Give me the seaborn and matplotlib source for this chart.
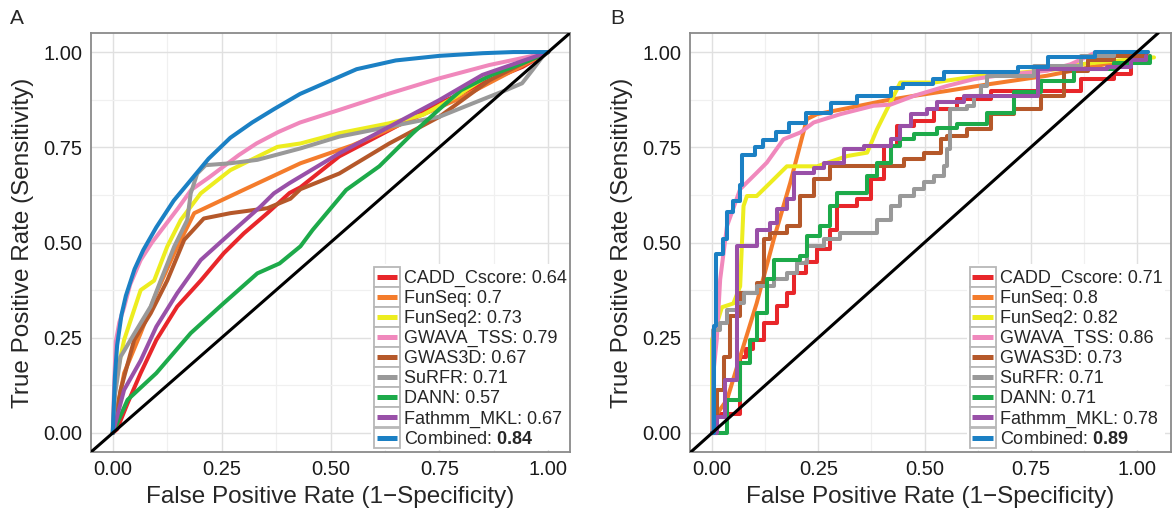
import numpy as np
import pandas as pd
import matplotlib
matplotlib.use("Agg")
import matplotlib.pyplot as plt
import seaborn as sns
from matplotlib.ticker import MultipleLocator
from matplotlib.legend_handler import HandlerLine2D
from matplotlib.patches import Rectangle
from matplotlib.lines import Line2D

METHODS = ["CADD_Cscore", "FunSeq", "FunSeq2", "GWAVA_TSS", "GWAS3D",
           "SuRFR", "DANN", "Fathmm_MKL", "Combined"]
COLORS = ["#E8262A", "#F47C2C", "#EDED1F", "#F088BC", "#B5582A",
          "#999999", "#1DAA4A", "#9950A8", "#1B80C4"]
AUC_A = ["0.64", "0.7", "0.73", "0.79", "0.67", "0.71", "0.57", "0.67", "0.84"]
AUC_B = ["0.71", "0.8", "0.82", "0.86", "0.73", "0.71", "0.71", "0.78", "0.89"]
TICKS = [0.0, 0.25, 0.5, 0.75, 1.0]
TICK_LABELS = ["0.00", "0.25", "0.50", "0.75", "1.00"]

# ---- panel A ----
a_cadd_fpr = [0, 0.01, 0.034, 0.064, 0.10, 0.148, 0.202, 0.255, 0.301, 0.355, 0.406, 0.431, 0.52, 0.635, 0.75, 0.865, 0.941, 1.0]
a_cadd_tpr = [0, 0.01, 0.078, 0.157, 0.244, 0.332, 0.40, 0.472, 0.524, 0.577, 0.63, 0.645, 0.726, 0.795, 0.865, 0.926, 0.961, 1.0]
a_funseq_fpr = [0, 0.01, 0.026, 0.064, 0.10, 0.141, 0.187, 0.30, 0.431, 0.55, 0.70, 0.80, 0.90, 1.0]
a_funseq_tpr = [0, 0.06, 0.157, 0.262, 0.367, 0.472, 0.577, 0.638, 0.708, 0.755, 0.83, 0.88, 0.94, 1.0]
a_funseq2_fpr = [0, 0.005, 0.026, 0.064, 0.095, 0.125, 0.156, 0.202, 0.27, 0.332, 0.378, 0.431, 0.52, 0.635, 0.712, 0.788, 0.865, 0.941, 1.0]
a_funseq2_tpr = [0, 0.13, 0.244, 0.375, 0.40, 0.489, 0.559, 0.629, 0.69, 0.725, 0.751, 0.76, 0.787, 0.813, 0.835, 0.883, 0.94, 0.975, 1.0]
a_gwava_fpr = [0, 0.003, 0.007, 0.015, 0.026, 0.04, 0.064, 0.09, 0.118, 0.15, 0.18, 0.22, 0.255, 0.29, 0.33, 0.38, 0.43, 0.52, 0.635, 0.75, 0.865, 0.956, 1.0]
a_gwava_tpr = [0, 0.12, 0.24, 0.29, 0.33, 0.39, 0.454, 0.50, 0.542, 0.59, 0.638, 0.67, 0.70, 0.73, 0.76, 0.79, 0.815, 0.848, 0.891, 0.931, 0.966, 0.988, 1.0]
a_gwas3d_fpr = [0, 0.018, 0.049, 0.087, 0.125, 0.164, 0.209, 0.27, 0.355, 0.408, 0.431, 0.52, 0.635, 0.75, 0.865, 0.941, 1.0]
a_gwas3d_tpr = [0, 0.113, 0.244, 0.314, 0.40, 0.507, 0.563, 0.577, 0.59, 0.615, 0.64, 0.681, 0.76, 0.83, 0.926, 0.97, 1.0]
a_surfr_fpr = [0, 0.005, 0.018, 0.049, 0.087, 0.11, 0.141, 0.171, 0.179, 0.194, 0.213, 0.27, 0.332, 0.431, 0.52, 0.635, 0.75, 0.826, 0.903, 0.94, 0.964, 0.987, 1.0]
a_surfr_tpr = [0, 0.10, 0.20, 0.26, 0.332, 0.40, 0.489, 0.559, 0.629, 0.681, 0.703, 0.708, 0.717, 0.747, 0.778, 0.804, 0.83, 0.865, 0.90, 0.918, 0.953, 0.988, 1.0]
a_dann_fpr = [0, 0.034, 0.10, 0.179, 0.255, 0.332, 0.383, 0.431, 0.459, 0.536, 0.612, 0.689, 0.75, 0.80, 0.87, 0.94, 1.0]
a_dann_tpr = [0, 0.087, 0.157, 0.262, 0.341, 0.419, 0.445, 0.49, 0.533, 0.638, 0.70, 0.787, 0.85, 0.90, 0.94, 0.97, 1.0]
a_fathmm_fpr = [0, 0.026, 0.064, 0.10, 0.148, 0.202, 0.27, 0.339, 0.37, 0.406, 0.52, 0.635, 0.75, 0.849, 1.0]
a_fathmm_tpr = [0, 0.113, 0.19, 0.279, 0.367, 0.454, 0.524, 0.594, 0.629, 0.656, 0.734, 0.804, 0.874, 0.94, 1.0]
a_comb_fpr = [0, 0.005, 0.01, 0.02, 0.03, 0.05, 0.07, 0.10, 0.14, 0.18, 0.22, 0.27, 0.32, 0.37, 0.43, 0.48, 0.56, 0.65, 0.75, 0.85, 0.92, 1.0]
a_comb_tpr = [0, 0.15, 0.23, 0.31, 0.36, 0.43, 0.48, 0.54, 0.61, 0.665, 0.72, 0.775, 0.815, 0.85, 0.89, 0.915, 0.955, 0.978, 0.99, 0.997, 1.0, 1.0]

# ---- panel B ----
b_cadd_fpr = [0, 0.011, 0.066, 0.08, 0.097, 0.121, 0.153, 0.176, 0.192, 0.22, 0.247, 0.278, 0.294, 0.341, 0.373, 0.404, 0.436, 0.475, 0.522, 0.577, 0.656, 0.868, 0.947, 0.986, 1.02]
b_cadd_tpr = [0, 0.05, 0.20, 0.22, 0.245, 0.289, 0.332, 0.367, 0.42, 0.45, 0.482, 0.534, 0.596, 0.613, 0.666, 0.753, 0.806, 0.82, 0.85, 0.876, 0.898, 0.929, 0.942, 0.977, 0.99]
b_funseq_fpr = [0, 0.007, 0.035, 0.066, 0.105, 0.145, 0.184, 0.223, 0.247, 0.325, 0.404, 0.475, 0.553, 0.648, 0.789, 0.907, 1.01, 1.03]
b_funseq_tpr = [0, 0.043, 0.087, 0.20, 0.341, 0.508, 0.657, 0.824, 0.837, 0.854, 0.872, 0.885, 0.898, 0.915, 0.938, 0.964, 0.986, 0.99]
b_funseq2_fpr = [0, 0.0, 0.023, 0.05, 0.066, 0.074, 0.082, 0.105, 0.137, 0.176, 0.247, 0.318, 0.365, 0.388, 0.443, 0.522, 0.632, 0.726, 0.813, 0.868, 0.947, 1.04]
b_funseq2_tpr = [0, 0.245, 0.33, 0.34, 0.385, 0.596, 0.622, 0.622, 0.657, 0.70, 0.70, 0.727, 0.736, 0.797, 0.92, 0.92, 0.938, 0.946, 0.955, 0.968, 0.977, 0.986]
b_gwava_fpr = [0, 0.003, 0.011, 0.019, 0.035, 0.066, 0.105, 0.129, 0.168, 0.208, 0.239, 0.302, 0.38, 0.42, 0.475, 0.553, 0.616, 0.671, 0.789, 0.844, 0.905, 0.94, 1.02]
b_gwava_tpr = [0, 0.157, 0.245, 0.403, 0.543, 0.64, 0.683, 0.71, 0.771, 0.789, 0.815, 0.837, 0.859, 0.862, 0.885, 0.911, 0.929, 0.938, 0.951, 0.968, 1.0, 1.0, 1.0]
b_gwas3d_fpr = [0, 0.011, 0.027, 0.042, 0.066, 0.105, 0.121, 0.137, 0.176, 0.208, 0.239, 0.278, 0.451, 0.498, 0.538, 0.553, 0.60, 0.656, 0.711, 0.774, 0.829, 0.884, 0.947, 1.02]
b_gwas3d_tpr = [0, 0.113, 0.20, 0.306, 0.367, 0.394, 0.508, 0.525, 0.543, 0.622, 0.666, 0.70, 0.718, 0.736, 0.771, 0.78, 0.797, 0.838, 0.85, 0.885, 0.951, 0.98, 0.99, 1.0]
b_surfr_fpr = [0, 0.002, 0.019, 0.035, 0.058, 0.074, 0.105, 0.145, 0.176, 0.20, 0.223, 0.263, 0.302, 0.388, 0.42, 0.443, 0.475, 0.498, 0.522, 0.546, 0.553, 0.561, 0.60, 0.616, 0.632, 0.648, 0.758, 0.868, 0.947, 1.025]
b_surfr_tpr = [0, 0.27, 0.289, 0.324, 0.341, 0.367, 0.385, 0.403, 0.42, 0.447, 0.49, 0.508, 0.525, 0.56, 0.596, 0.622, 0.64, 0.66, 0.675, 0.70, 0.745, 0.85, 0.859, 0.885, 0.911, 0.938, 0.964, 0.99, 1.0, 1.0]
b_dann_fpr = [0, 0.035, 0.066, 0.09, 0.105, 0.129, 0.145, 0.208, 0.223, 0.255, 0.278, 0.294, 0.365, 0.388, 0.42, 0.443, 0.475, 0.53, 0.577, 0.648, 0.711, 0.774, 0.852, 0.947, 1.03]
b_dann_tpr = [0, 0.087, 0.184, 0.245, 0.315, 0.403, 0.455, 0.464, 0.517, 0.543, 0.596, 0.631, 0.675, 0.71, 0.753, 0.771, 0.784, 0.80, 0.81, 0.84, 0.894, 0.925, 0.955, 0.97, 0.99]
b_fathmm_fpr = [0, 0.011, 0.03, 0.058, 0.082, 0.105, 0.137, 0.153, 0.176, 0.192, 0.239, 0.263, 0.31, 0.357, 0.42, 0.443, 0.467, 0.506, 0.53, 0.593, 0.766, 0.93, 0.986, 1.02]
b_fathmm_tpr = [0, 0.043, 0.14, 0.49, 0.49, 0.534, 0.552, 0.587, 0.613, 0.683, 0.696, 0.71, 0.745, 0.753, 0.771, 0.806, 0.837, 0.85, 0.868, 0.885, 0.955, 0.96, 0.98, 0.99]
b_comb_fpr = [0, 0.005, 0.01, 0.025, 0.035, 0.05, 0.065, 0.07, 0.10, 0.12, 0.15, 0.18, 0.22, 0.28, 0.34, 0.42, 0.45, 0.52, 0.545, 0.72, 0.79, 0.90, 1.025]
b_comb_tpr = [0, 0.28, 0.47, 0.51, 0.58, 0.61, 0.65, 0.73, 0.75, 0.77, 0.79, 0.815, 0.84, 0.865, 0.885, 0.905, 0.915, 0.93, 0.947, 0.96, 0.986, 1.0, 1.0]

# curves in B that are step functions; the rest are drawn as plain lines
B_STEPPED = {"CADD_Cscore", "GWAS3D", "SuRFR", "DANN", "Fathmm_MKL", "Combined"}


def build_frame(curves):
    rows = []
    for name, (fpr, tpr) in zip(METHODS, curves):
        for i, (x, y) in enumerate(zip(fpr, tpr)):
            rows.append({"method": name, "order": i, "fpr": x, "tpr": y})
    return pd.DataFrame(rows)


df_a = build_frame([(a_cadd_fpr, a_cadd_tpr), (a_funseq_fpr, a_funseq_tpr),
                    (a_funseq2_fpr, a_funseq2_tpr), (a_gwava_fpr, a_gwava_tpr),
                    (a_gwas3d_fpr, a_gwas3d_tpr), (a_surfr_fpr, a_surfr_tpr),
                    (a_dann_fpr, a_dann_tpr), (a_fathmm_fpr, a_fathmm_tpr),
                    (a_comb_fpr, a_comb_tpr)])
df_b = build_frame([(b_cadd_fpr, b_cadd_tpr), (b_funseq_fpr, b_funseq_tpr),
                    (b_funseq2_fpr, b_funseq2_tpr), (b_gwava_fpr, b_gwava_tpr),
                    (b_gwas3d_fpr, b_gwas3d_tpr), (b_surfr_fpr, b_surfr_tpr),
                    (b_dann_fpr, b_dann_tpr), (b_fathmm_fpr, b_fathmm_tpr),
                    (b_comb_fpr, b_comb_tpr)])


class KeyBox(HandlerLine2D):
    """ggplot-style legend key: grey bordered square with a short thick line."""
    def create_artists(self, legend, orig_handle, xdescent, ydescent,
                       width, height, fontsize, trans):
        box = Rectangle((-xdescent, -ydescent), width, height, facecolor="white",
                        edgecolor="#B8B8B8", linewidth=1.3, transform=trans)
        yc = -ydescent + height / 2
        line = Line2D([-xdescent + width * 0.1, -xdescent + width * 0.9], [yc, yc],
                      color=orig_handle.get_color(), linewidth=3.6,
                      solid_capstyle="butt", transform=trans)
        return [box, line]


sns.set_style("white")
plt.rcParams["font.family"] = ["Liberation Sans", "DejaVu Sans"]
plt.rcParams["mathtext.fontset"] = "custom"
plt.rcParams["mathtext.rm"] = "Liberation Sans"
plt.rcParams["mathtext.bf"] = "Liberation Sans:bold"

fig = plt.figure(figsize=(11.74, 5.13), dpi=100)
W, H = 1174, 513
ax_a = fig.add_axes([91 / W, (H - 452) / H, 479 / W, 419 / H])
ax_b = fig.add_axes([690 / W, (H - 452) / H, 481 / W, 419 / H])


def draw_panel(ax, df, aucs, xlim, stepped, leg_x):
    for name, col in zip(METHODS, COLORS):
        sub = df[df["method"] == name]
        ds = "steps-post" if name in stepped else "default"
        sns.lineplot(data=sub, x="fpr", y="tpr", color=col, linewidth=2.9,
                     sort=False, estimator=None, drawstyle=ds, ax=ax)
    ax.axline((0, 0), slope=1, color="black", linewidth=2.2, zorder=5)

    ax.set_xlim(*xlim)
    ax.set_ylim(-0.05, 1.05)
    ax.set_xticks(TICKS)
    ax.set_xticklabels(TICK_LABELS)
    ax.set_yticks(TICKS)
    ax.set_yticklabels(TICK_LABELS)
    ax.xaxis.set_minor_locator(MultipleLocator(0.125))
    ax.yaxis.set_minor_locator(MultipleLocator(0.125))
    ax.grid(which="major", color="#E0E0E0", linewidth=1.0)
    ax.grid(which="minor", color="#F0F0F0", linewidth=0.9)
    ax.set_axisbelow(True)
    ax.tick_params(which="major", length=4, width=1.4, color="#222222",
                   labelsize=14.5, labelcolor="#1A1A1A", pad=2)
    ax.tick_params(which="minor", length=0)
    for sp in ax.spines.values():
        sp.set_color("#8A8A8A")
        sp.set_linewidth(1.3)

    ax.set_xlabel("False Positive Rate (1\u2212Specificity)", fontsize=17.5)
    ax.set_ylabel("True Positive Rate (Sensitivity)", fontsize=17.5)
    ax.xaxis.set_label_coords(0.5, -0.082)
    ax.yaxis.set_label_coords(-0.118, 0.5)
    ax.xaxis.label.set_va("top")

    handles = [Line2D([], [], color=c) for c in COLORS]
    labels = [f"{m}: {a}" for m, a in zip(METHODS[:-1], aucs[:-1])]
    labels.append(f"Combined: $\\mathbf{{{aucs[-1]}}}$")
    leg = ax.legend(handles, labels, loc="lower left", bbox_to_anchor=(leg_x, 0.004),
                    borderaxespad=0, fontsize=13, handlelength=1.45, handleheight=1.32,
                    labelspacing=0.0, handletextpad=0.2, borderpad=0.15,
                    frameon=True, fancybox=False, framealpha=1,
                    handler_map={Line2D: KeyBox()})
    leg.get_frame().set_edgecolor("white")
    leg.get_frame().set_linewidth(0)
    leg.set_zorder(10)


draw_panel(ax_a, df_a, AUC_A, (-0.05, 1.05), set(), 0.585)
draw_panel(ax_b, df_b, AUC_B, (-0.052, 1.08), B_STEPPED, 0.576)

fig.text(17 / W, 1 - 18 / H, "A", fontsize=15, ha="center", va="center")
fig.text(617 / W, 1 - 18 / H, "B", fontsize=15, ha="center", va="center")

plt.savefig("out.png", dpi=100)
plt.close()
